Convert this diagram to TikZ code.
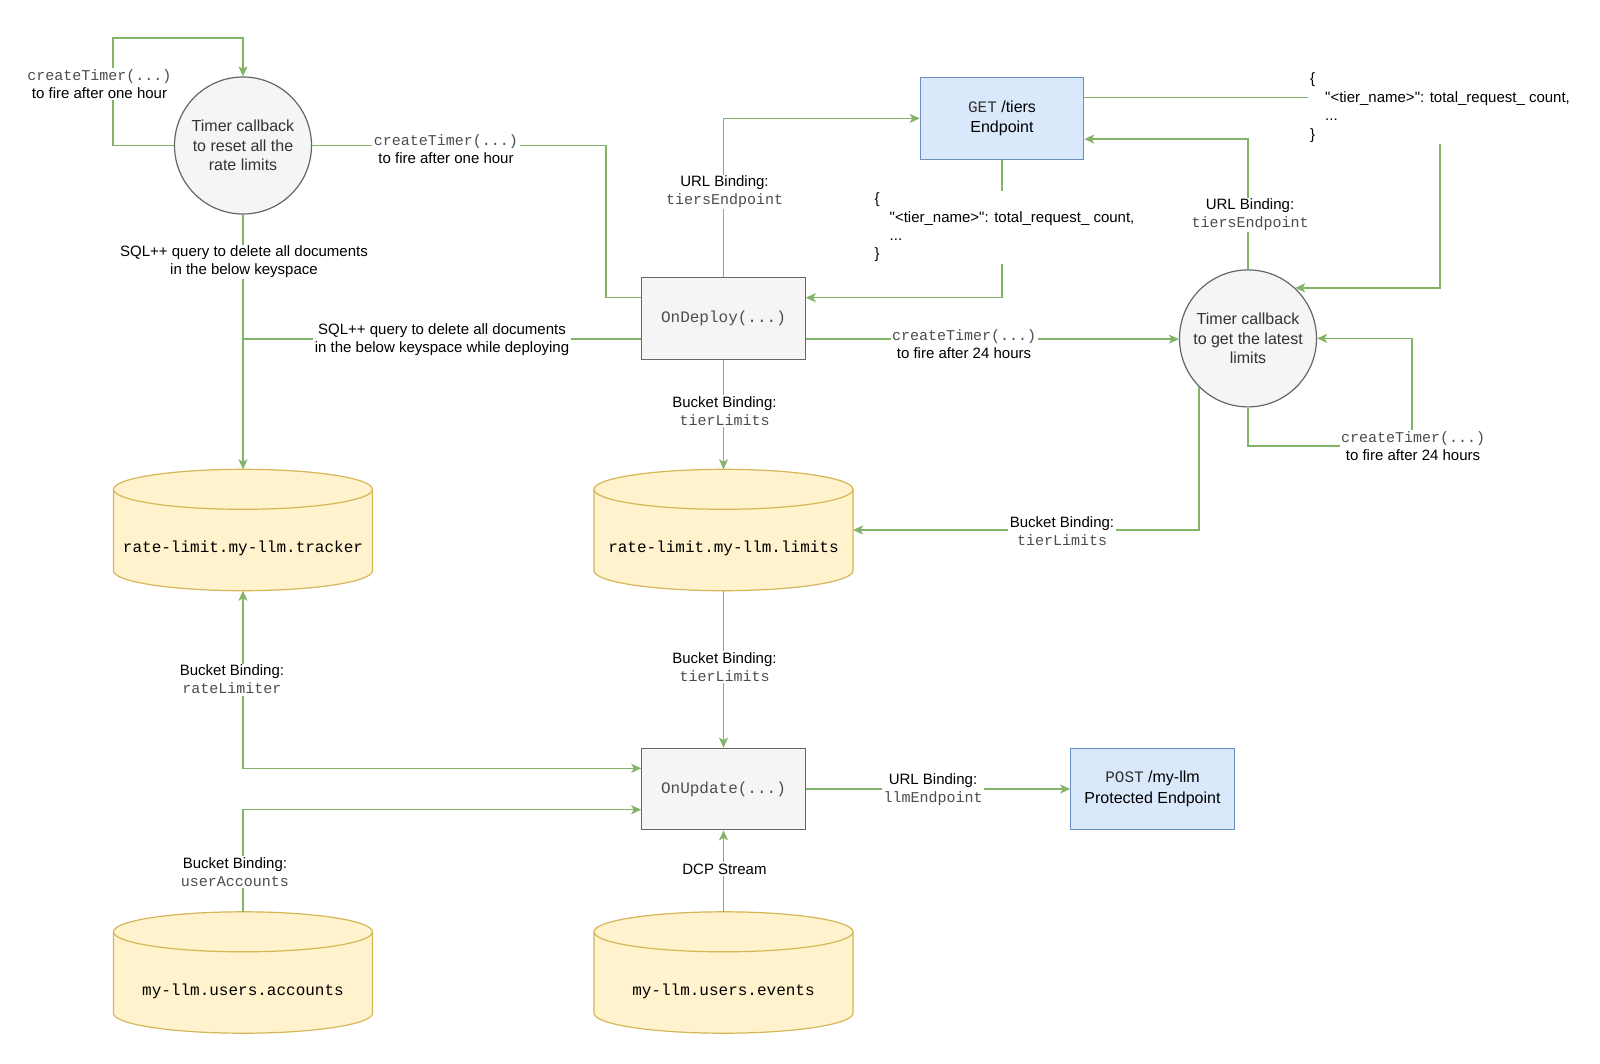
\documentclass[tikz,border=0pt]{standalone}
\usepackage{fontspec}
\setmainfont{Liberation Sans}[Ligatures=TeXOff]
\setmonofont{Liberation Mono}[Ligatures=TeXOff]
\usetikzlibrary{arrows.meta,calc}
\pgfdeclarelayer{bg}
\pgfsetlayers{bg,main}
\definecolor{eg}{HTML}{82B366}
\definecolor{gfill}{HTML}{F5F5F5}
\definecolor{gline}{HTML}{666666}
\definecolor{gtext}{HTML}{333333}
\definecolor{bfill}{HTML}{DAE8FC}
\definecolor{bline}{HTML}{6C8EBF}
\definecolor{yfill}{HTML}{FFF2CC}
\definecolor{yline}{HTML}{D6B656}
\definecolor{monoc}{HTML}{4D4D4D}
\newcommand{\mt}[1]{{\ttfamily\color{monoc}#1}}
\newcommand{\drawcyl}[1]{%
  \path[fill=yfill,draw=yline,line width=1.2pt]
    ($(#1.north west)+(0,20)$) -- ($(#1.south west)+(0,-20)$)
    arc[start angle=180,end angle=360,x radius=129.5pt,y radius=20pt]
    -- ($(#1.north east)+(0,20)$)
    arc[start angle=0,end angle=180,x radius=129.5pt,y radius=20pt] -- cycle;
  \draw[draw=yline,line width=1.2pt] ($(#1.north west)+(0,20)$)
    arc[start angle=180,end angle=360,x radius=129.5pt,y radius=20pt];
}
\begin{document}
\begin{tikzpicture}[x=1pt,y=-1pt,
  conn/.style={draw=eg,line width=1.5pt},
  arr/.style={-{Stealth[length=10pt,width=9pt,inset=2.5pt]}},
  barr/.style={{Stealth[length=10pt,width=9pt,inset=2.5pt]}-{Stealth[length=10pt,width=9pt,inset=2.5pt]}},
  circ/.style={circle,draw=gline,fill=gfill,line width=1.2pt,minimum size=137pt,inner sep=0pt,align=center,font=\fontsize{16}{19.7}\selectfont,text=gtext},
  gbox/.style={rectangle,draw=gline,fill=gfill,line width=1.2pt,minimum width=163.3pt,minimum height=81.6pt,inner sep=0pt,font=\fontsize{16}{19.6}\selectfont\ttfamily,text=monoc},
  bbox/.style={rectangle,draw=bline,fill=bfill,line width=1.2pt,minimum width=163.3pt,minimum height=81.6pt,inner sep=0pt,align=center,font=\fontsize{16}{20.4}\selectfont},
  cyl/.style={rectangle,minimum width=259pt,minimum height=121.4pt,inner sep=0pt,outer sep=0pt},
  cyltext/.style={font=\fontsize{16}{19}\selectfont\ttfamily,inner sep=0pt},
  lbl/.style={fill=white,inner sep=1.5pt,align=center,font=\fontsize{15}{18}\selectfont},
  json/.style={fill=white,inner sep=2pt,align=left,anchor=west,font=\fontsize{15}{18.4}\selectfont}
]
\useasboundingbox (0,0) rectangle (1600,1063);
% main nodes
\node[circ] (c1) at (243,145.5) {Timer callback\\to reset all the\\rate limits};
\node[circ] (c2) at (1248,338.4) {Timer callback\\to get the latest\\limits};
\node[bbox] (get) at (1002,118.4) {{\ttfamily\color{gtext}GET} /tiers\\Endpoint};
\node[gbox] (od) at (723.5,318.4) {OnDeploy(...)};
\node[gbox] (ou) at (723.5,789) {OnUpdate(...)};
\node[bbox] (post) at (1152.5,789) {{\ttfamily\color{gtext}POST} /my-llm\\Protected Endpoint};
\node[cyl] (trk) at (243,530) {};
\node[cyl] (lim) at (723.5,530) {};
\node[cyl] (acc) at (243,972.5) {};
\node[cyl] (ev) at (723.5,972.5) {};
\begin{pgfonlayer}{bg}
\drawcyl{trk}
\drawcyl{lim}
\drawcyl{acc}
\drawcyl{ev}
\end{pgfonlayer}
\node[cyltext] (trkT) at (243,548) {rate-limit.my-llm.tracker};
\node[cyltext] (limT) at (723.5,548) {rate-limit.my-llm.limits};
\node[cyltext] (accT) at (243,991) {my-llm.users.accounts};
\node[cyltext] (evT) at (723.5,991) {my-llm.users.events};
% helper points
\coordinate (odL1) at ($(od.north west)!0.25!(od.south west)$);
\coordinate (odL3) at ($(od.north west)!0.75!(od.south west)$);
\coordinate (odR1) at ($(od.north east)!0.25!(od.south east)$);
\coordinate (odR3) at ($(od.north east)!0.75!(od.south east)$);
\coordinate (ouL1) at ($(ou.north west)!0.25!(ou.south west)$);
\coordinate (ouL3) at ($(ou.north west)!0.75!(ou.south west)$);
\coordinate (getR1) at ($(get.north east)!0.25!(get.south east)$);
\coordinate (getR3) at ($(get.north east)!0.75!(get.south east)$);
\coordinate (k1) at (113,38);
\coordinate (k2) at (606,200);
\coordinate (k8) at (1440,200);
\coordinate (k10) at (1412,446);
% connectors
\draw[conn,arr] (c1.west) -| (k1) -| (c1.north);
\draw[conn] (c1.east) -| (k2) |- (odL1);
\draw[conn] (odL3) -- (odL3 -| c1);
\draw[conn,arr] (c1.south) -- (trk.north);
\draw[conn,arr] (od.north) |- (get.west);
\draw[conn,arr] (get.south) |- (odR1);
\draw[conn,arr] (c2.north) |- (getR3);
\draw[conn,arr] (getR1) -| (c2.47 -| k8) -- (c2.47);
\draw[conn,arr] (odR3) -- (odR3 -| c2.west);
\draw[conn,arr] (c2.south) |- (k10) |- (c2.east);
\draw[conn,arr] (c2.225) |- (lim.east);
\draw[conn,arr] (od.south) -- (lim.north);
\draw[conn,arr] (lim.south) -- (ou.north);
\draw[conn,barr] (trk.south) |- (ouL1);
\draw[conn,arr] (acc.north) |- (ouL3);
\draw[conn,arr] (ev.north) -- (ou.south);
\draw[conn,arr] (ou.east) -- (post.west);
% labels
\node[lbl] (L1) at (99.5,84) {\mt{createTimer(...)}\\to fire after one hour};
\node[lbl] (L2) at (446,149) {\mt{createTimer(...)}\\to fire after one hour};
\node[lbl] (L3) at (442,339.5) {SQL++ query to delete all documents\\in the below keyspace while deploying};
\node[lbl] (L4) at (244,262) {SQL++ query to delete all documents\\in the below keyspace};
\node[lbl] (L5) at (724.5,192) {URL Binding:\\\mt{tiersEndpoint}};
\node[json] (L6) at (872.5,227.5) {\{\\\hspace*{15pt}"<tier\_name>": total\_request\_ count,\\\hspace*{15pt}...\\\}};
\node[lbl] (L7) at (1250,215) {URL Binding:\\\mt{tiersEndpoint}};
\node[json] (L8) at (1308,107.6) {\{\\\hspace*{15pt}"<tier\_name>": total\_request\_ count,\\\hspace*{15pt}...\\\}};
\node[lbl] (L9) at (964,344.5) {\mt{createTimer(...)}\\to fire after 24 hours};
\node[lbl] (L10) at (1413,446.5) {\mt{createTimer(...)}\\to fire after 24 hours};
\node[lbl] (L11) at (1062,531) {Bucket Binding:\\\mt{tierLimits}};
\node[lbl] (L12) at (724.5,411) {Bucket Binding:\\\mt{tierLimits}};
\node[lbl] (L13) at (724.5,667) {Bucket Binding:\\\mt{tierLimits}};
\node[lbl] (L14) at (232,679.5) {Bucket Binding:\\\mt{rateLimiter}};
\node[lbl] (L15) at (235,872) {Bucket Binding:\\\mt{userAccounts}};
\node[lbl] (L16) at (724.5,869) {DCP Stream};
\node[lbl] (L17) at (933,790) {URL Binding:\\\mt{llmEndpoint}};
\end{tikzpicture}
\end{document}
